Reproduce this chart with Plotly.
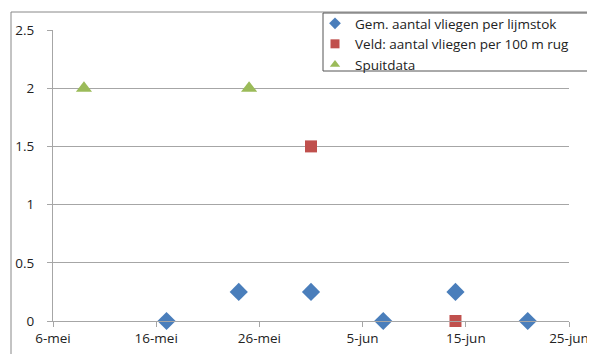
import plotly.graph_objects as go

# Data
lijmstok_dates = ["2013-05-17", "2013-05-24", "2013-05-31", "2013-06-07", "2013-06-14", "2013-06-21"]
lijmstok_values = [0, 0.25, 0.25, 0, 0.25, 0]

veld_dates = ["2013-05-31", "2013-06-14"]
veld_values = [1.5, 0]

spuit_dates = ["2013-05-09", "2013-05-25"]
spuit_values = [2, 2]

tick_dates = ["2013-05-06", "2013-05-16", "2013-05-26", "2013-06-05", "2013-06-15", "2013-06-25"]
tick_labels = ["6-mei", "16-mei", "26-mei", "5-jun", "15-jun", "25-jun"]

names = ["Gem. aantal vliegen per lijmstok", "Veld: aantal vliegen per 100 m rug", "Spuitdata"]
colors = ["#4A7EBB", "#C0504D", "#9BBB59"]
symbols = ["diamond", "square", "triangle-up"]

fig = go.Figure()
series = [(lijmstok_dates, lijmstok_values, 14), (veld_dates, veld_values, 12), (spuit_dates, spuit_values, 14)]
for (xs, ys, sz), nm, c, s in zip(series, names, colors, symbols):
    fig.add_trace(go.Scatter(x=xs, y=ys, mode="markers", name=nm, showlegend=False,
                             cliponaxis=False,
                             marker=dict(symbol=s, size=sz, color=c)))
# legend entries with smaller symbols
for nm, c, s in zip(names, colors, symbols):
    fig.add_trace(go.Scatter(x=[None], y=[None], mode="markers", name=nm,
                             marker=dict(symbol=s, size=9, color=c)))

# page body has an 8px margin, so the figure is 8px smaller than the window
W, H = 587, 346
L, R, T, B = 45, 26, 22, 33
pw, ph = W - L - R, H - T - B

def px(x):
    return (x - L) / pw

def py(y):
    return (H - B - y) / ph

fig.update_layout(
    width=W, height=H,
    margin=dict(l=L, r=R, t=T, b=B, autoexpand=False),
    paper_bgcolor="white", plot_bgcolor="white",
    font=dict(family="Open Sans, Liberation Sans, sans-serif", size=13, color="#222"),
    showlegend=True,
    legend=dict(x=px(307), y=py(0), xanchor="left", yanchor="top",
                borderwidth=0, bgcolor="rgba(0,0,0,0)",
                font=dict(size=13.5), tracegroupgap=0, itemwidth=30,
                traceorder="normal"),
    xaxis=dict(type="date", range=["2013-05-06", "2013-06-25"],
               tickvals=tick_dates, ticktext=tick_labels, automargin=False,
               showgrid=False, showline=True, linecolor="#A6A6A6", linewidth=1,
               ticks="outside", ticklen=5, tickcolor="#A6A6A6", zeroline=False,
               tickfont=dict(size=13.5)),
    yaxis=dict(range=[0, 2.5], tickvals=[0, 0.5, 1, 1.5, 2, 2.5],
               ticktext=["0", "0.5", "1", "1.5", "2", "2.5"], automargin=False,
               showgrid=True, gridcolor="#A6A6A6", gridwidth=1,
               showline=True, linecolor="#A6A6A6", linewidth=1,
               ticks="outside", ticklen=5, tickcolor="#A6A6A6", zeroline=False,
               ticklabelstandoff=10,
               tickfont=dict(size=13.5)),
    shapes=[
        dict(type="rect", xref="paper", yref="paper",
             x0=px(3), x1=px(700), y0=py(400), y1=py(4),
             line=dict(color="#888", width=1), fillcolor="rgba(0,0,0,0)", layer="below"),
        dict(type="rect", xref="paper", yref="paper",
             x0=px(315), x1=px(586), y0=py(63), y1=py(5),
             line=dict(color="#555", width=1), fillcolor="white", layer="above"),
    ],
)

fig.write_html("out.html")
